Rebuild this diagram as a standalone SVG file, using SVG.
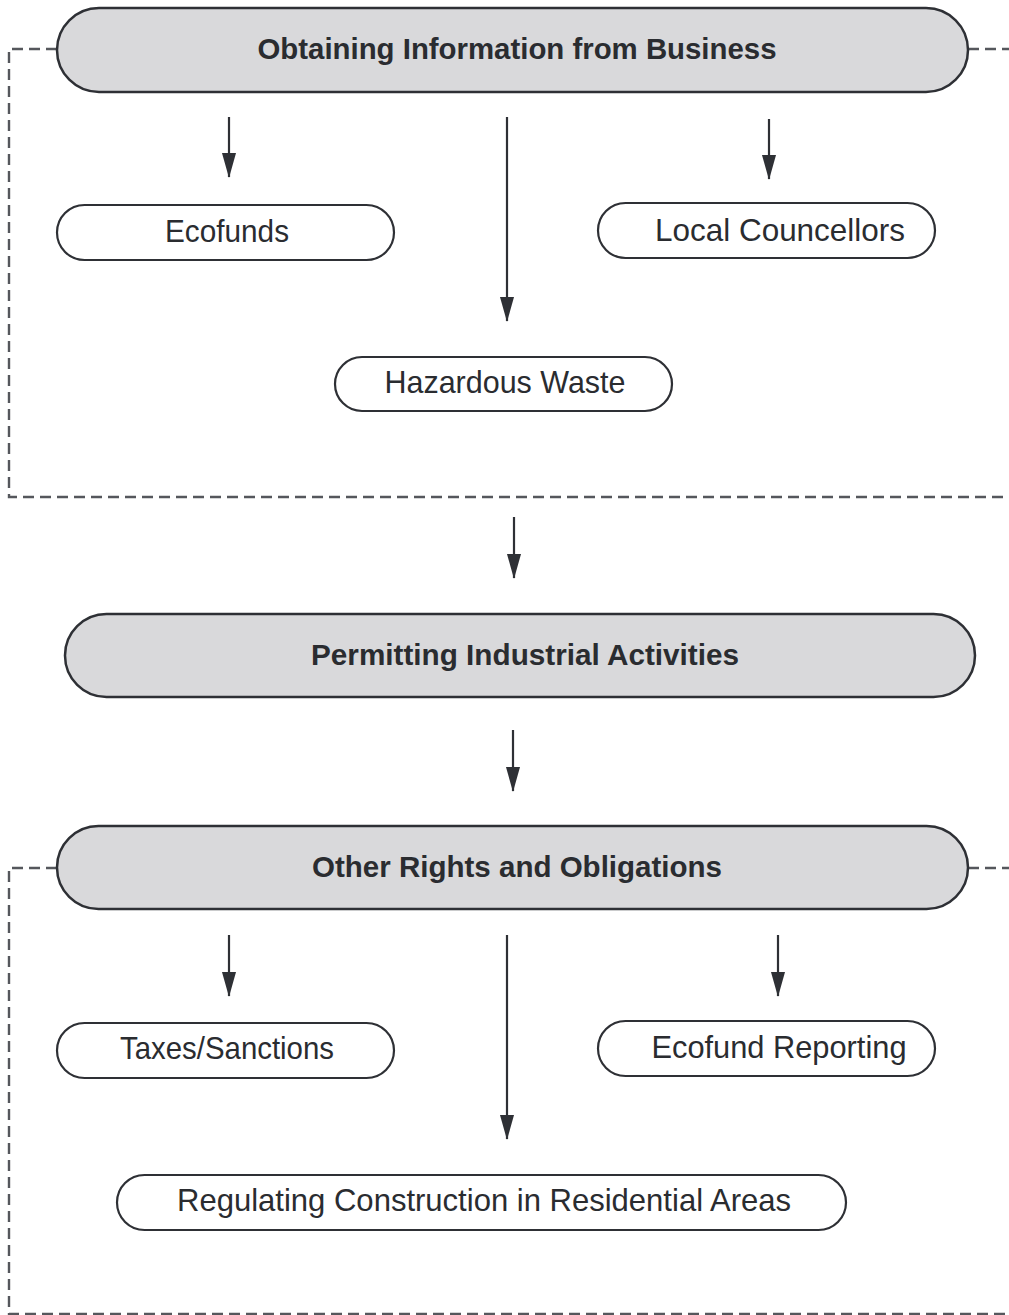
<svg xmlns="http://www.w3.org/2000/svg" width="1009" height="1315" viewBox="0 0 1009 1315">
  <style>
    .main { fill: #d9d9db; stroke: #2e3035; stroke-width: 2.5; }
    .sub { fill: #ffffff; stroke: #2e3035; stroke-width: 2.2; }
    .mt { font-family: "Liberation Sans", Arial, sans-serif; font-weight: bold; font-size: 29.5px; fill: #2a2c30; text-anchor: middle; }
    .st { font-family: "Liberation Sans", Arial, sans-serif; font-size: 30.5px; fill: #2a2c30; text-anchor: middle; }
    .arrow { stroke: #2e3035; stroke-width: 2.2; fill: none; marker-end: url(#head); }
    .dash { stroke: #55575c; stroke-width: 2.4; fill: none; stroke-dasharray: 11 6; }
  </style>
  <defs>
    <marker id="head" viewBox="0 0 25 14" refX="24" refY="7" markerWidth="25" markerHeight="14" markerUnits="userSpaceOnUse" orient="auto">
      <path d="M0,0 L25,7 L0,14 Z" fill="#2e3035"/>
    </marker>
  </defs>

  <!-- dashed brackets around the two grouped sections -->
  <g id="connectors-dashed">
    <polyline class="dash" points="57,49 9,49 9,497 1009,497"/>
    <line class="dash" x1="968" y1="49" x2="1009" y2="49"/>
    <polyline class="dash" points="57,868 9,868 9,1314 1009,1314"/>
    <line class="dash" x1="968" y1="868" x2="1009" y2="868"/>
  </g>

  <g id="connectors">
    <line class="arrow" x1="229" y1="117" x2="229" y2="177"/>
    <line class="arrow" x1="507" y1="117" x2="507" y2="321"/>
    <line class="arrow" x1="769" y1="119" x2="769" y2="179"/>
    <line class="arrow" x1="514" y1="517" x2="514" y2="578"/>
    <line class="arrow" x1="513" y1="730" x2="513" y2="791"/>
    <line class="arrow" x1="229" y1="935" x2="229" y2="996"/>
    <line class="arrow" x1="507" y1="935" x2="507" y2="1139"/>
    <line class="arrow" x1="778" y1="935" x2="778" y2="996"/>
  </g>

  <g id="obtaining-information">
    <rect class="main" x="57" y="8" width="911" height="84" rx="42"/>
    <text class="mt" x="517" y="59" textLength="519" lengthAdjust="spacingAndGlyphs">Obtaining Information from Business</text>
  </g>
  <g id="ecofunds">
    <rect class="sub" x="57" y="205" width="337" height="55" rx="27.5"/>
    <text class="st" x="227" y="242" textLength="124" lengthAdjust="spacingAndGlyphs">Ecofunds</text>
  </g>
  <g id="local-councellors">
    <rect class="sub" x="598" y="203" width="337" height="55" rx="27.5"/>
    <text class="st" x="780" y="241" textLength="250" lengthAdjust="spacingAndGlyphs">Local Councellors</text>
  </g>
  <g id="hazardous-waste">
    <rect class="sub" x="335" y="357" width="337" height="54" rx="27"/>
    <text class="st" x="505" y="393" textLength="241" lengthAdjust="spacingAndGlyphs">Hazardous Waste</text>
  </g>
  <g id="permitting">
    <rect class="main" x="65" y="614" width="910" height="83" rx="41.5"/>
    <text class="mt" x="525" y="665" textLength="428" lengthAdjust="spacingAndGlyphs">Permitting Industrial Activities</text>
  </g>
  <g id="other-rights">
    <rect class="main" x="57" y="826" width="911" height="83" rx="41.5"/>
    <text class="mt" x="517" y="877" textLength="410" lengthAdjust="spacingAndGlyphs">Other Rights and Obligations</text>
  </g>
  <g id="taxes-sanctions">
    <rect class="sub" x="57" y="1023" width="337" height="55" rx="27.5"/>
    <text class="st" x="227" y="1059" textLength="214" lengthAdjust="spacingAndGlyphs">Taxes/Sanctions</text>
  </g>
  <g id="ecofund-reporting">
    <rect class="sub" x="598" y="1021" width="337" height="55" rx="27.5"/>
    <text class="st" x="779" y="1058" textLength="255" lengthAdjust="spacingAndGlyphs">Ecofund Reporting</text>
  </g>
  <g id="regulating-construction">
    <rect class="sub" x="117" y="1175" width="729" height="55" rx="27.5"/>
    <text class="st" x="484" y="1211" textLength="614" lengthAdjust="spacingAndGlyphs">Regulating Construction in Residential Areas</text>
  </g>
</svg>
